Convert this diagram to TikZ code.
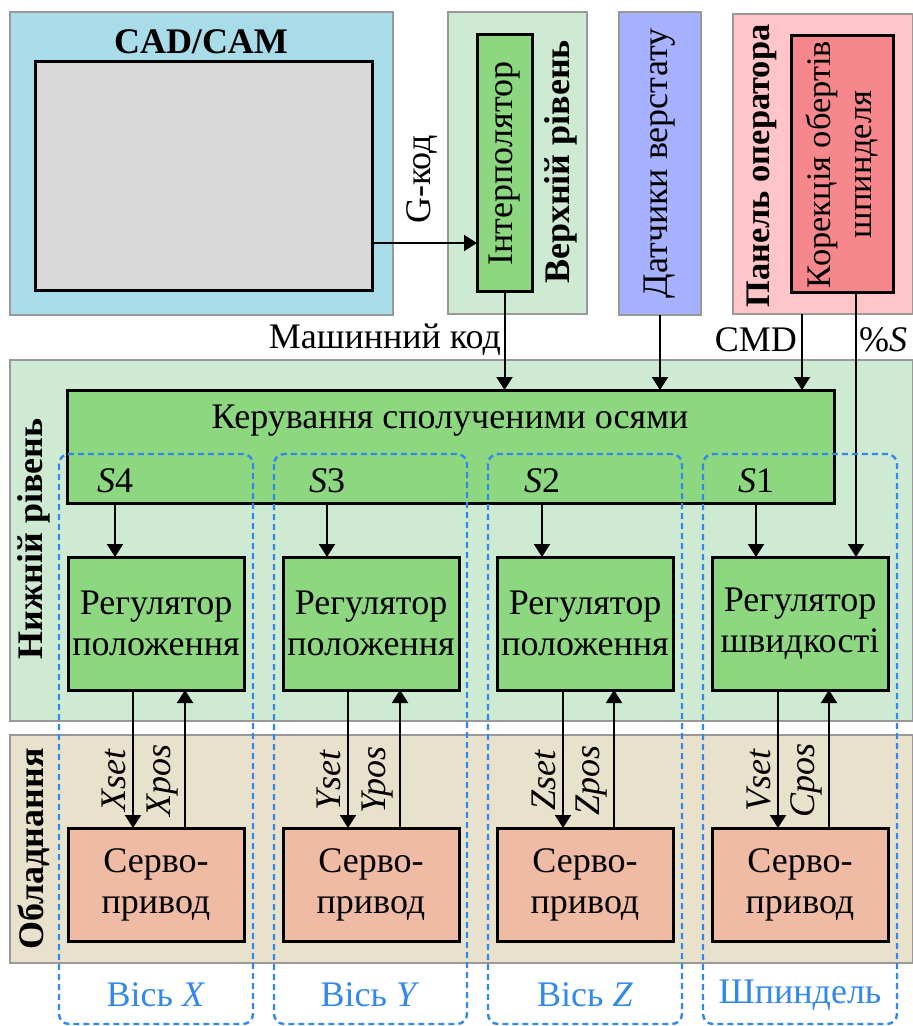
\documentclass[tikz,border=0pt]{standalone}
\usepackage{fontspec}
\setmainfont{Liberation Serif}
\usetikzlibrary{arrows.meta}

\definecolor{cadfon}{RGB}{168,220,232}
\definecolor{ekran}{RGB}{217,217,217}
\definecolor{rivfon}{RGB}{207,234,210}
\definecolor{blokzel}{RGB}{141,215,128}
\definecolor{datfon}{RGB}{166,177,255}
\definecolor{operfon}{RGB}{255,197,200}
\definecolor{korfon}{RGB}{246,135,141}
\definecolor{oblfon}{RGB}{232,226,204}
\definecolor{servfon}{RGB}{239,187,164}
\definecolor{osj}{RGB}{51,136,238}

\newcommand{\osn}{\fontsize{18}{20.5}\selectfont}
\newcommand{\mensh}{\fontsize{17.2}{20.5}\selectfont}

\tikzset{
  panel/.style={draw=black!40, line width=1.2pt, anchor=north west, inner sep=0pt, outer sep=0pt},
  blok/.style={draw=black, line width=1.5pt, anchor=north west, inner sep=0pt, outer sep=0pt, align=center},
  strilka/.style={line width=1pt, -{Triangle[length=6.5pt,width=8pt]}},
  vis/.style={draw=osj, line width=1.2pt, dash pattern=on 3pt off 2pt, rounded corners=5pt},
  vert/.style={rotate=90},
}

\begin{document}
\begin{tikzpicture}[x=0.5pt, y=-0.5pt, font=\osn]
\useasboundingbox (0,0) rectangle (912,1026);

% CAD/CAM
\node[panel, fill=cadfon, minimum width=191.5pt, minimum height=151.5pt] (cad) at (10,12) {};
\node[blok, fill=ekran, minimum width=168.5pt, minimum height=114.5pt] (ekr) at (35,62) {};
\node[font=\osn\bfseries] (tcad) at (201,42) {CAD/CAM};

% верхній рівень
\node[panel, fill=rivfon, minimum width=69.5pt, minimum height=151pt] (verh) at (448,12) {};
\node[blok, fill=blokzel, minimum width=27.5pt, minimum height=128.5pt] (interp) at (477,35) {};
\node[vert] (tinterp) at (interp.center) {Інтерполятор};
\node[vert, font=\osn\bfseries] (tverh) at (561,162) {Верхній рівень};

% датчики
\node[panel, fill=datfon, minimum width=41pt, minimum height=151.5pt] (dat) at (619,12) {};
\node[vert] (tdat) at (dat.center) {Датчики верстату};

% панель оператора
\node[panel, fill=operfon, minimum width=90pt, minimum height=150pt] (oper) at (733,14) {};
\node[blok, fill=korfon, minimum width=51pt, minimum height=128.5pt] (kor) at (791,36) {};
\node[vert, align=center, font=\mensh] (tkor) at (kor.center) {Корекція обертів\\шпинделя};
\node[vert, font=\mensh\bfseries] (toper) at (762,166) {Панель оператора};

% нижній рівень
\node[panel, fill=rivfon, minimum width=451.5pt, minimum height=180.5pt] (niz) at (10,360) {};
\node[blok, fill=blokzel, minimum width=383.5pt, minimum height=56.5pt] (ker) at (67,390) {};
\node (tker) at (450,421) {Керування сполученими осями};
\node[vert, font=\osn\bfseries] (tniz) at (34,539) {Нижній рівень};

\node[blok, fill=blokzel, minimum width=88pt, minimum height=66.5pt] (reg1) at (68,557) {Регулятор\\положення};
\node[blok, fill=blokzel, minimum width=88pt, minimum height=66.5pt] (reg2) at (283,557) {Регулятор\\положення};
\node[blok, fill=blokzel, minimum width=88pt, minimum height=66.5pt] (reg3) at (497,557) {Регулятор\\положення};
\node[blok, fill=blokzel, minimum width=88pt, minimum height=66.5pt] (reg4) at (712,557) {Регулятор\\швидкості};

% обладнання
\node[panel, fill=oblfon, minimum width=451.5pt, minimum height=114pt] (obl) at (10,735) {};
\node[vert, font=\osn\bfseries] (tobl) at (34,849) {Обладнання};

\node[blok, fill=servfon, minimum width=88pt, minimum height=56.5pt] (serv1) at (68,828) {Серво-\\привод};
\node[blok, fill=servfon, minimum width=88pt, minimum height=56.5pt] (serv2) at (283,828) {Серво-\\привод};
\node[blok, fill=servfon, minimum width=88pt, minimum height=56.5pt] (serv3) at (497,828) {Серво-\\привод};
\node[blok, fill=servfon, minimum width=88pt, minimum height=56.5pt] (serv4) at (712,828) {Серво-\\привод};

% зв'язки верхнього рівня
\coordinate (g) at ([yshift=24pt]ekr.south east);
\draw[strilka] (g) -- (g -| interp.west);
\node[vert, anchor=west] (tg) at (422,231) {G-код};

\draw[strilka] (interp.south) -- (interp.south |- ker.north);
\draw[strilka] (dat.south) -- (dat.south |- ker.north);
\coordinate (cmd) at ([xshift=34.5pt]oper.south west);
\draw[strilka] (cmd) -- (cmd |- ker.north);
\coordinate (proc) at ([xshift=32.5pt]kor.south west);
\draw[strilka] (proc) -- (proc |- reg4.north);

\node[anchor=east] (tmk) at (508,340) {Машинний код};
\node[anchor=east] (tcmd) at (804,340) {CMD};
\node[anchor=west] (tproc) at (852,340) {\%\textit{S}};

% сигнали S
\coordinate (s4) at ([xshift=23.5pt]reg1.north west);
\coordinate (s3) at ([xshift=22pt]reg2.north west);
\coordinate (s2) at ([xshift=22.5pt]reg3.north west);
\coordinate (s1) at ([xshift=22pt]reg4.north west);
\draw[strilka] (s4 |- ker.south) -- (s4);
\draw[strilka] (s3 |- ker.south) -- (s3);
\draw[strilka] (s2 |- ker.south) -- (s2);
\draw[strilka] (s1 |- ker.south) -- (s1);

% регулятор -> сервопривід і назад
\draw[strilka] ([xshift=32.5pt]reg1.south west) -- ([xshift=32.5pt]serv1.north west);
\draw[strilka] ([xshift=58.5pt]serv1.north west) -- ([xshift=58.5pt]reg1.south west);
\draw[strilka] ([xshift=32.5pt]reg2.south west) -- ([xshift=32.5pt]serv2.north west);
\draw[strilka] ([xshift=58.5pt]serv2.north west) -- ([xshift=58.5pt]reg2.south west);
\draw[strilka] ([xshift=33pt]reg3.south west) -- ([xshift=33pt]serv3.north west);
\draw[strilka] ([xshift=58.5pt]serv3.north west) -- ([xshift=58.5pt]reg3.south west);
\draw[strilka] ([xshift=33pt]reg4.south west) -- ([xshift=33pt]serv4.north west);
\draw[strilka] ([xshift=58.5pt]serv4.north west) -- ([xshift=58.5pt]reg4.south west);

\node[vert, anchor=south] (lxs) at (133,780) {\textit{Xset}};
\node[vert, anchor=south] (lxp) at (185,780) {\textit{Xpos}};
\node[vert, anchor=south] (lys) at (348,780) {\textit{Yset}};
\node[vert, anchor=south] (lyp) at (400,780) {\textit{Ypos}};
\node[vert, anchor=south] (lzs) at (563,780) {\textit{Zset}};
\node[vert, anchor=south] (lzp) at (614,780) {\textit{Zpos}};
\node[vert, anchor=south] (lvs) at (778,780) {\textit{Vset}};
\node[vert, anchor=south] (lcp) at (829,780) {\textit{Cpos}};

% осі
\draw[vis] (59,454) rectangle (253,1024);
\draw[vis] (274,454) rectangle (467,1024);
\draw[vis] (488,454) rectangle (682,1024);
\draw[vis] (703,454) rectangle (897,1024);

\node (ts4) at (115,481) {\textit{S}4};
\node (ts3) at (327,481) {\textit{S}3};
\node (ts2) at (542,481) {\textit{S}2};
\node (ts1) at (756,481) {\textit{S}1};

\node[text=osj] (vx) at (156,995) {Вісь \textit{X}};
\node[text=osj] (vy) at (370,995) {Вісь \textit{Y}};
\node[text=osj] (vz) at (585,995) {Вісь \textit{Z}};
\node[text=osj] (vs) at (800,995) {Шпиндель};
\end{tikzpicture}
\end{document}
